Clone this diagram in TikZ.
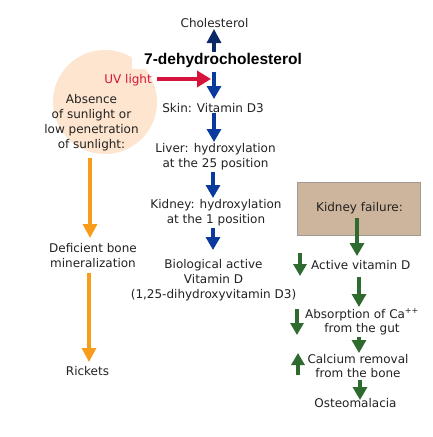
\documentclass[tikz,border=0pt]{standalone}
\usepackage{fontspec}
\setmainfont{DejaVu Sans}
\newfontfamily\arialfont{Liberation Sans}
\usetikzlibrary{arrows.meta}
\definecolor{txtc}{HTML}{222222}
\definecolor{navyA}{HTML}{0C2A66}
\definecolor{blueA}{HTML}{0B3A9E}
\definecolor{redA}{HTML}{D6133C}
\definecolor{orangeA}{HTML}{F89C1C}
\definecolor{greenA}{HTML}{2F6B2F}
\definecolor{peachA}{HTML}{FDE5CF}
\definecolor{tanA}{HTML}{CDB49C}
\definecolor{tanB}{HTML}{A09A94}
\begin{document}
\begin{tikzpicture}[x=1pt,y=-1pt,
  txt/.style={font=\fontsize{12}{14.7}\selectfont, text=txtc, inner sep=0pt, align=center},
  txtg/.style={txt, font=\fontsize{12}{14}\selectfont},
  navyarrow/.style={draw=navyA, line width=3.2pt, -{Triangle[width=14pt,length=14pt]}},
  bluearrow/.style={draw=blueA, line width=3.2pt, -{Triangle[width=14pt,length=13pt]}},
  redarrow/.style={draw=redA, line width=4pt, -{Triangle[width=16pt,length=14pt]}},
  orangearrow/.style={draw=orangeA, line width=3.2pt, -{Triangle[width=14pt,length=14pt]}},
  greenarrow/.style={draw=greenA, line width=3.2pt, -{Triangle[width=14pt,length=13pt]}},
  smallgreen/.style={draw=greenA, line width=3.2pt, -{Triangle[width=13pt,length=12pt]}}]
\useasboundingbox (0,0) rectangle (432,437);
\fill[white] (0,0) rectangle (432,437);
% circle
\fill[peachA] (105,102) circle[radius=52];
% texts (anchor base = baseline of the last line)
\node[txt, anchor=base] (chol) at (214.5,27) {Cholesterol};
\node[font=\arialfont\bfseries\fontsize{15.5}{17}\selectfont, text=black, fill=white,
      inner xsep=12pt, inner ysep=2pt, anchor=base] (dehyd) at (223,64) {7-dehydrocholesterol};
\node[txt, text=redA, anchor=base east] (uv) at (152,83) {UV light};
\node[txt, anchor=base] (abs) at (91.5,148) {Absence\\of sunlight or\\low penetration\\of sunlight:};
\node[txt, anchor=base] (skin) at (213,112) {Skin: Vitamin D3};
\node[txt, anchor=base] (liver) at (215.5,167) {Liver: hydroxylation\\at the 25 position};
\node[txt, anchor=base] (kid) at (216,223) {Kidney: hydroxylation\\at the 1 position};
\node[txt, anchor=base] (bio) at (213.5,298) {Biological active\\Vitamin D\\(1,25-dihydroxyvitamin D3)};
\node[txt, anchor=base] (defic) at (93,267) {Deficient bone\\mineralization};
\node[txt, anchor=base] (rick) at (87.5,375) {Rickets};
\node[draw=tanB, fill=tanA, line width=0.6pt, minimum width=123pt, minimum height=53pt, inner sep=0pt] (kf) at (358.5,208.5) {};
\node[txt, anchor=base] (kft) at (359.5,211) {Kidney failure:};
\node[txt, anchor=base west] (act) at (311,269) {Active vitamin D};
\node[txtg, anchor=base] (absorp) at (362,332) {Absorption of Ca\textsuperscript{++}\\from the gut};
\node[txtg, anchor=base] (calc) at (358,377) {Calcium removal\\from the bone};
\node[txt, anchor=base] (osteo) at (355.5,407) {Osteomalacia};
% coordinates
\coordinate (n1a) at (214,52); \coordinate (n1b) at (214,29);
\coordinate (b1a) at (214,72); \coordinate (b1b) at (214,99);
\coordinate (b2a) at (214,113); \coordinate (b2b) at (214,142);
\coordinate (b3a) at (213,172); \coordinate (b3b) at (213,198);
\coordinate (b4a) at (213,228); \coordinate (b4b) at (213,250);
\coordinate (r1a) at (157,79); \coordinate (r1b) at (211,79);
\coordinate (o1a) at (90,158); \coordinate (o1b) at (90,238);
\coordinate (o2a) at (89,273); \coordinate (o2b) at (89,362);
\coordinate (g1a) at (357,218); \coordinate (g1b) at (357,256);
\coordinate (g2a) at (359,277); \coordinate (g2b) at (359,307);
\coordinate (g3a) at (359,337); \coordinate (g3b) at (359,353);
\coordinate (g4a) at (360,380); \coordinate (g4b) at (360,400);
\coordinate (s1a) at (300,253); \coordinate (s1b) at (300,276);
\coordinate (s2a) at (297,309); \coordinate (s2b) at (297,335);
\coordinate (s3a) at (298,375); \coordinate (s3b) at (298,353);
% arrows
\draw[navyarrow] (n1a) -- (n1b);
\draw[bluearrow] (b1a) -- (b1b);
\draw[bluearrow] (b2a) -- (b2b);
\draw[bluearrow] (b3a) -- (b3b);
\draw[bluearrow] (b4a) -- (b4b);
\draw[redarrow] (r1a) -- (r1b);
\draw[orangearrow] (o1a) -- (o1b);
\draw[orangearrow] (o2a) -- (o2b);
\draw[greenarrow] (g1a) -- (g1b);
\draw[greenarrow] (g2a) -- (g2b);
\draw[greenarrow] (g3a) -- (g3b);
\draw[greenarrow] (g4a) -- (g4b);
\draw[smallgreen] (s1a) -- (s1b);
\draw[smallgreen] (s2a) -- (s2b);
\draw[smallgreen] (s3a) -- (s3b);
\end{tikzpicture}
\end{document}
